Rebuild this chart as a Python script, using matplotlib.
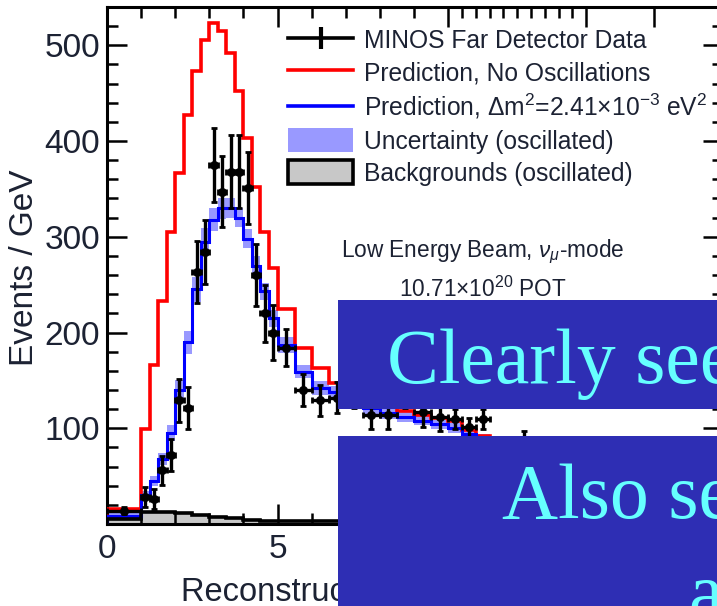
import matplotlib
matplotlib.use("Agg")
import matplotlib.pyplot as plt
import numpy as np
from matplotlib.lines import Line2D
from matplotlib.patches import Patch, Rectangle

plt.rcParams["font.family"] = ["Liberation Sans", "DejaVu Sans"]
plt.rcParams["mathtext.fontset"] = "custom"
plt.rcParams["mathtext.rm"] = "Liberation Sans"
plt.rcParams["mathtext.it"] = "Liberation Sans:italic"
plt.rcParams["mathtext.bf"] = "Liberation Sans:bold"

# bin edges (GeV)
edges = [0, 1.0, 1.25, 1.5, 1.75, 2.0, 2.25, 2.5, 2.75, 3.0, 3.25, 3.5, 3.75, 4.0,
         4.25, 4.5, 4.75, 5.0, 5.5, 6.0, 6.5, 7.0, 7.5, 8.0, 8.5, 9.0, 9.5, 10,
         11, 12, 13, 14, 15, 16, 17, 18, 19, 20, 30, 50]

# events / GeV per bin
no_osc = [16,
          99, 166, 233, 305, 367, 427, 473, 506, 523, 515, 492, 452, 403, 352, 305, 267,
          225, 184, 163, 147, 138, 130, 124, 118, 114, 111,
          108, 98, 92, 86, 80, 74, 68, 62, 57, 52,
          32, 12]
osc = [8,
       30, 45, 68, 95, 140, 190, 245, 295, 318, 330, 330, 320, 298, 270, 243, 215,
       187, 159, 142, 138, 128, 121, 116, 112, 108, 104,
       100, 94, 89, 84, 78, 72, 66, 61, 56, 51,
       31, 12]
osc_unc = [3,
           4, 5, 6, 8, 10, 12, 13, 14, 12, 11, 10, 10, 10, 10, 9, 9,
           8, 7, 7, 6, 6, 6, 6, 5, 5, 5,
           5, 5, 5, 4, 4, 4, 4, 4, 4, 4,
           3, 2]
bkg = [5,
       13, 13, 13, 13, 11, 11, 9.5, 9.5, 7.5, 7.5, 6, 6, 4.5, 4, 3.5, 3.5,
       3, 3, 3, 3, 3, 3, 3, 3, 3, 3,
       3, 3, 3, 3, 3, 3, 3, 3, 3, 3,
       2.5, 2]

# far detector data
data_e = [0.5, 1.125, 1.375, 1.625, 1.875, 2.125, 2.375, 2.625, 2.875, 3.125, 3.375,
          3.625, 3.875, 4.125, 4.375, 4.625, 4.875, 5.25, 5.75, 6.25, 6.75, 7.25,
          7.75, 8.25, 8.75, 9.25, 9.75, 10.5, 11.5, 12.5, 13.5, 14.5, 15.5, 16.5,
          17.5, 18.5, 19.5]
data_xerr = [0.5] + [0.125] * 16 + [0.25] * 10 + [0.5] * 10
data_n = [14, 28, 26, 56, 72, 129, 121, 263, 284, 375, 347,
          368, 368, 351, 260, 220, 200, 184, 140, 129, 132, 138,
          114, 114, 138, 117, 112, 110, 101, 110, 78, 72, 88, 62,
          55, 50, 45]
data_yerr = [3.7, 10.6, 10.2, 15.0, 17.0, 22.7, 22.0, 32.4, 33.7, 38.7, 37.3,
             38.4, 38.4, 37.5, 32.2, 29.7, 28.3, 19.2, 16.7, 16.1, 16.2, 16.6,
             15.1, 15.1, 16.6, 15.3, 15.0, 10.5, 10.0, 10.5, 8.8, 8.5, 9.4, 7.9,
             7.4, 7.1, 6.7]

# piecewise x axis: linear to 10 GeV, compressed above
x_breaks = [0, 10, 20, 30, 50]
u_breaks = [0, 10, 14.05, 16.04, 18.06]


def fwd(x):
    x = np.asarray(x, dtype=float)
    return np.interp(x, x_breaks, u_breaks) + np.where(x < 0, x, 0) \
        + np.where(x > 50, (x - 50) * 0.1, 0)


def inv(u):
    u = np.asarray(u, dtype=float)
    return np.interp(u, u_breaks, x_breaks) + np.where(u < 0, u, 0) \
        + np.where(u > 18.06, (u - 18.06) * 10, 0)


fig = plt.figure(figsize=(7.17, 6.06), dpi=100)
ax = fig.add_axes([107 / 717, 1 - 524 / 606, 616 / 717, 517 / 606])
ax.set_xscale("function", functions=(fwd, inv))

lo = np.array(osc) - np.array(osc_unc)
hi = np.array(osc) + np.array(osc_unc)
ax.stairs(bkg, edges, fill=True, color="#c8c8c8", zorder=1)
ax.stairs(hi, edges, baseline=lo, fill=True, color="#9999ff", lw=0, zorder=2)
ax.stairs(no_osc, edges, color="#ff0000", lw=2.6, zorder=3)
ax.stairs(osc, edges, color="#0000ff", lw=2.2, zorder=4)
ax.stairs(bkg, edges, color="black", lw=2.6, zorder=5)
ax.errorbar(data_e, data_n, xerr=data_xerr, yerr=data_yerr, fmt="o", color="black",
            ms=5.5, elinewidth=2.4, capsize=2.2, capthick=2.0, zorder=6)

ax.set_xlim(0, 50)
ax.set_ylim(0, 540)
ax.xaxis.set_major_locator(matplotlib.ticker.FixedLocator([0, 5, 10, 20, 30]))
ax.xaxis.set_minor_locator(matplotlib.ticker.FixedLocator(
    [1, 2, 3, 4, 6, 7, 8, 9, 11, 12, 13, 14, 15, 16, 17, 18, 19]))
ax.yaxis.set_major_locator(matplotlib.ticker.MultipleLocator(100))
ax.yaxis.set_minor_locator(matplotlib.ticker.MultipleLocator(20))
ax.set_yticks([100, 200, 300, 400, 500])
ax.tick_params(which="both", direction="in", top=True, right=True, width=1.8,
               labelsize=24, labelcolor="#1c2233")
ax.tick_params(which="major", length=14.5)
ax.tick_params(which="minor", length=8)
ax.tick_params(axis="y", pad=5)
ax.tick_params(axis="x", pad=7)
for s in ax.spines.values():
    s.set_linewidth(2.2)

ax.set_ylabel("Events / GeV", fontsize=24, color="#1c2233")
ax.yaxis.set_label_coords(-0.109, 0.495)
ax.set_xlabel("Reconstructed neutrino energy (GeV)", fontsize=23.5, color="#1c2233",
              loc="right", labelpad=9)

handles = [
    Line2D([], [], color="black", lw=2.6, marker="|", ms=16, mew=3),
    Line2D([], [], color="#ff0000", lw=2.6),
    Line2D([], [], color="#0000ff", lw=2.6),
    Patch(facecolor="#9999ff", edgecolor="none"),
    Patch(facecolor="#c8c8c8", edgecolor="black", lw=2.6),
]
labels = [
    "MINOS Far Detector Data",
    "Prediction, No Oscillations",
    r"Prediction, $\Delta$m$^2$=2.41$\times$10$^{-3}$ eV$^2$",
    "Uncertainty (oscillated)",
    "Backgrounds (oscillated)",
]
leg = ax.legend(handles, labels, loc="upper left", bbox_to_anchor=(288 / 717, 1 - 28 / 606),
                bbox_transform=fig.transFigure, frameon=False, fontsize=17.7,
                handlelength=2.65, handleheight=1.1, handletextpad=0.45,
                labelspacing=0.28, borderpad=0, borderaxespad=0, labelcolor="#1c2233")

fig.text(483 / 717, 1 - 252 / 606, r"Low Energy Beam, $\nu_{\mu}$-mode", fontsize=16.3,
         ha="center", va="center", color="#1c2233")
fig.text(483 / 717, 1 - 289 / 606, r"10.71$\times$10$^{20}$ POT", fontsize=16.3,
         ha="center", va="center", color="#1c2233")

# slide overlay boxes
box_col = "#2e2eb4"
fig.add_artist(Rectangle((338 / 717, 1 - 409 / 606), 1, 109 / 606, transform=fig.transFigure,
                         facecolor=box_col, edgecolor="none", zorder=10))
fig.add_artist(Rectangle((338 / 717, 0), 1, 1 - 436 / 606, transform=fig.transFigure,
                         facecolor=box_col, edgecolor="none", zorder=10))
fig.text(387 / 717, 1 - 383 / 606, "Clearly see", fontsize=56, family="Liberation Serif",
         color="#66ffff", va="baseline", ha="left", zorder=11)
fig.text(502 / 717, 1 - 518 / 606, "Also see", fontsize=56, family="Liberation Serif",
         color="#66ffff", va="baseline", ha="left", zorder=11)
fig.text(688 / 717, 1 - 617 / 606, "a", fontsize=56, family="Liberation Serif",
         color="#66ffff", va="baseline", ha="left", zorder=11)

fig.savefig("out.png", dpi=100)
